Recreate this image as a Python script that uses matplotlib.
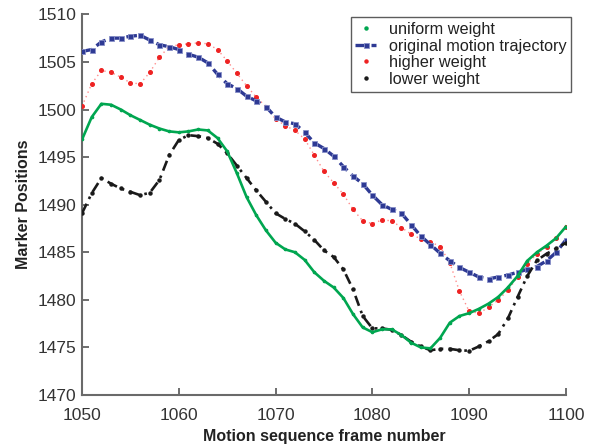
import matplotlib
matplotlib.use("Agg")
import matplotlib.pyplot as plt
from matplotlib.lines import Line2D
import numpy as np

frames = list(range(1050, 1101))

original = [1506.1, 1506.3, 1507.1, 1507.5, 1507.5, 1507.7, 1507.8, 1507.3, 1506.8, 1506.6,
            1506.3, 1505.8, 1505.5, 1504.9, 1503.7, 1502.7, 1502.2, 1501.4, 1500.9, 1500.3,
            1499.2, 1498.7, 1498.5, 1497.6, 1496.5, 1495.9, 1495.1, 1494.0, 1493.0, 1492.2,
            1491.0, 1490.0, 1489.5, 1489.1, 1487.9, 1486.7, 1485.8, 1484.9, 1484.1, 1483.4,
            1482.9, 1482.4, 1482.2, 1482.4, 1482.6, 1482.9, 1483.2, 1483.5, 1484.1, 1485.0,
            1486.3]

higher = [1500.35, 1502.7, 1504.1, 1503.9, 1503.4, 1502.8, 1502.7, 1503.9, 1505.5, 1506.6,
          1506.8, 1506.9, 1507.0, 1506.9, 1506.3, 1505.1, 1503.8, 1502.5, 1501.3, 1500.3,
          1499.0, 1498.3, 1497.8, 1496.9, 1495.2, 1493.5, 1492.3, 1491.1, 1489.5, 1488.3,
          1488.0, 1488.4, 1488.3, 1487.6, 1486.9, 1486.4, 1486.1, 1485.6, 1483.9, 1480.9,
          1478.8, 1478.6, 1479.2, 1480.0, 1481.0, 1482.4, 1483.8, 1484.8, 1485.6, 1486.5,
          1487.7]

uniform = [1496.85, 1499.2, 1500.6, 1500.5, 1500.0, 1499.4, 1498.9, 1498.4, 1498.0, 1497.7,
           1497.6, 1497.7, 1497.9, 1497.8, 1497.0, 1495.6, 1493.3, 1490.8, 1488.9, 1487.3,
           1486.0, 1485.3, 1485.0, 1484.2, 1482.9, 1482.0, 1481.3, 1480.2, 1478.5, 1477.1,
           1476.6, 1476.9, 1476.9, 1476.3, 1475.5, 1475.0, 1474.9, 1476.0, 1477.6, 1478.3,
           1478.6, 1479.05, 1479.6, 1480.3, 1481.3, 1482.5, 1484.1, 1485.0, 1485.7, 1486.5,
           1487.7]

lower = [1489.1, 1491.2, 1492.8, 1492.2, 1491.7, 1491.35, 1491.0, 1491.25, 1492.6, 1495.2,
         1496.8, 1497.3, 1497.2, 1497.0, 1496.4, 1495.4, 1494.1, 1492.8, 1491.5, 1490.3,
         1489.1, 1488.5, 1488.0, 1487.2, 1486.3, 1485.2, 1484.5, 1483.2, 1481.1, 1478.3,
         1477.0, 1477.0, 1476.85, 1476.3, 1475.6, 1475.1, 1474.7, 1474.85, 1474.85, 1474.7,
         1474.65, 1475.1, 1475.65, 1476.4, 1478.05, 1480.3, 1482.5, 1484.15, 1484.85, 1485.4,
         1486.0]

labels = ["uniform weight", "original motion trajectory", "higher weight", "lower weight"]
xticks = [1050, 1060, 1070, 1080, 1090, 1100]
yticks = [1470, 1475, 1480, 1485, 1490, 1495, 1500, 1505, 1510]

plt.rcParams['font.family'] = ['Liberation Sans', 'DejaVu Sans']

green = '#00a650'
blue = '#2e3a94'
red = '#ee2222'
pink = '#ff8c8c'

fig = plt.figure(figsize=(5.97, 4.48), dpi=100)
ax = fig.add_axes([0.1374, 0.1183, 0.8106, 0.8497])

ax.plot(frames, higher, linestyle=(0, (1, 2.5)), color=pink, lw=1.0, zorder=2)
ax.plot(frames, higher, linestyle='none', marker='o', ms=2.6, color=red, mec=red, zorder=3)
ax.plot(frames, original, linestyle=(0, (3.2, 1.6)), color=blue, lw=2.4, marker='s', ms=3.6,
        mfc=blue, mec='#8890c8', mew=0.6, zorder=4)
ax.plot(frames, lower, linestyle=(0, (4, 2, 1, 2)), color='#1a1a1a', lw=1.9,
        marker='o', ms=2.2, zorder=5)
ax.plot(frames, uniform, linestyle='-', color=green, lw=1.9, marker='o', ms=1.6, zorder=6)

ax.set_xlim(1050, 1100)
ax.set_ylim(1470, 1510)
ax.set_xticks(xticks)
ax.set_yticks(yticks)
for s in ['top', 'right']:
    ax.spines[s].set_visible(False)
for s in ['left', 'bottom']:
    ax.spines[s].set_color('#6a6a6a')
    ax.spines[s].set_linewidth(1.5)
ax.tick_params(direction='in', length=5, width=1.2, color='#555555',
               labelsize=12.5, labelcolor='#333333', pad=4)
ax.tick_params(axis='x', pad=9)
ax.set_xlabel('Motion sequence frame number', fontsize=11.5, fontweight='bold', color='#222222', labelpad=5)
ax.set_ylabel('Marker Positions', fontsize=11.5, fontweight='bold', color='#222222', labelpad=4.5)

handles = [
    Line2D([], [], linestyle='none', marker='o', ms=2.2, color=green),
    Line2D([], [], linestyle=(0, (3.2, 1.6)), color=blue, lw=2.4, marker='s', ms=3.6, mec='#8890c8', mew=0.6),
    Line2D([], [], linestyle='none', marker='o', ms=2.2, color=red),
    Line2D([], [], linestyle='none', marker='o', ms=2.2, color='#1a1a1a'),
]
leg = ax.legend(handles, labels, loc='upper right', bbox_to_anchor=(1.011, 0.993),
                fontsize=11.7, frameon=True, fancybox=False, edgecolor='#333333',
                handlelength=1.25, handletextpad=0.8, labelspacing=0.1, borderpad=0.3,
                borderaxespad=0.0)
leg.get_frame().set_linewidth(1.0)
for t in leg.get_texts():
    t.set_color('#222222')

fig.savefig('out.png', dpi=100)
